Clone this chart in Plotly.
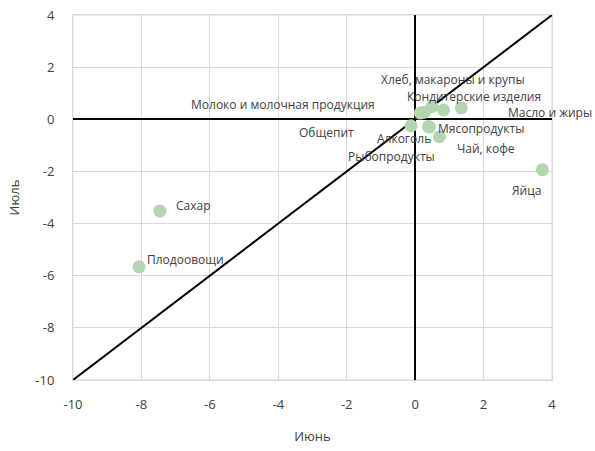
import plotly.graph_objects as go

categories = ["Хлеб, макароны и крупы", "Кондитерские изделия", "Масло и жиры",
              "Молоко и молочная продукция", "Рыбопродукты", "Общепит",
              "Алкоголь", "Мясопродукты", "Чай, кофе", "Яйца", "Сахар", "Плодоовощи"]
june = [0.49, 0.83, 1.35, 0.27, 0.15, -0.12, 0.39, 0.42, 0.71, 3.72, -7.46, -8.07]
july = [0.48, 0.36, 0.44, 0.27, 0.24, -0.25, -0.28, -0.30, -0.67, -1.94, -3.52, -5.66]
diag = [-10, 4]
ticks = [-10, -8, -6, -4, -2, 0, 2, 4]
tick_labels = ["-10", "-8", "-6", "-4", "-2", "0", "2", "4"]

# label offsets in pixels (x right, y up)
label_shift = [(21, 27), (30, 13), (89, -5), (-141, 8), (-29, -43), (-85, -7),
               (-24, -12), (51, -1), (47, -12), (-16, -21), (34, 6), (46, 7)]

FONT = "Open Sans"
fig = go.Figure()
fig.add_trace(go.Scatter(x=diag, y=diag, mode="lines",
                         line=dict(color="black", width=2), hoverinfo="skip"))
fig.add_trace(go.Scatter(x=june, y=july, mode="markers", text=categories,
                         marker=dict(size=13, color="#b3d5b0")))
for c, x, y, (dx, dy) in zip(categories, june, july, label_shift):
    fig.add_annotation(x=x, y=y, text=c, showarrow=False, xshift=dx, yshift=dy,
                       font=dict(family=FONT, size=12, color="#404040"))

axis_common = dict(range=[-10, 4], tickvals=ticks, ticktext=tick_labels, showgrid=True,
                   gridcolor="#d9d9d9", gridwidth=1, zeroline=True, zerolinecolor="black",
                   zerolinewidth=1.5, showline=True, linecolor="#d9d9d9", linewidth=1,
                   mirror=True, ticks="outside", tickcolor="rgba(0,0,0,0)", automargin=False,
                   tickfont=dict(family=FONT, size=13, color="#404040"))
fig.update_xaxes(**axis_common, ticklen=12,
                 title=dict(text="Июнь", font=dict(family=FONT, size=13, color="#404040"),
                            standoff=20))
fig.update_yaxes(**axis_common, ticklen=15,
                 title=dict(text="Июль", font=dict(family=FONT, size=13, color="#404040"),
                            standoff=12))
fig.add_shape(type="rect", xref="paper", yref="paper", x0=0, x1=1, y0=0, y1=1,
              line=dict(color="#d9d9d9", width=1), layer="below")
fig.update_layout(width=595, height=451, showlegend=False,
                  margin=dict(l=73, r=43, t=15, b=71),
                  plot_bgcolor="white", paper_bgcolor="white")
fig.write_html("out.html", config={"displayModeBar": False},
               post_script="document.body.style.margin='0';document.body.style.overflow='hidden';")
